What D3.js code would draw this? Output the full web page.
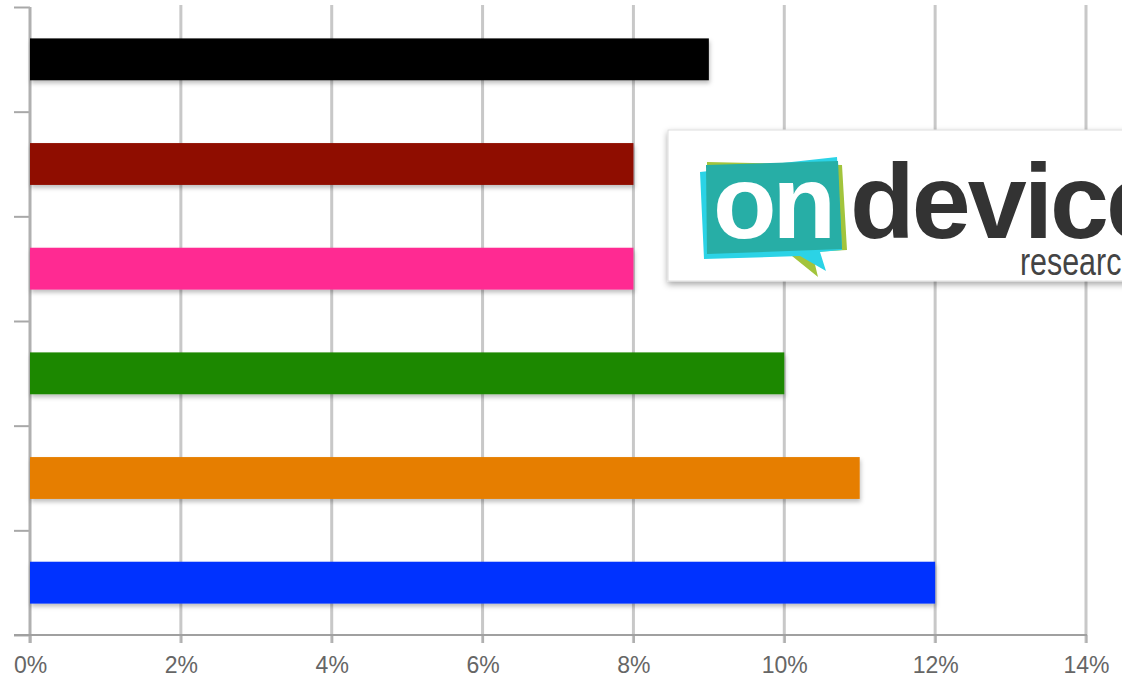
<!DOCTYPE html>
<html><head><meta charset="utf-8">
<script src="https://cdn.jsdelivr.net/npm/d3@7"></script>
<style>html,body{margin:0;padding:0;background:#fff;}svg{display:block;}</style>
</head><body>
<svg id="chart" width="1122" height="681"></svg>
<script>
const categories = ["s1","s2","s3","s4","s5","s6"];
const values = [9, 8, 8, 10, 11, 12];
const colors = ["#000000","#8f0f00","#ff2a92","#1b8800","#e67e00","#0433ff"];
const xTicks = [0,2,4,6,8,10,12,14];

const svg = d3.select("#chart");
const m = {left:30, top:7, right:1086, bottom:635};

const defs = svg.append("defs");
const f = defs.append("filter").attr("id","sh").attr("x","-5%").attr("y","-30%").attr("width","110%").attr("height","180%");
f.append("feDropShadow").attr("dx",1).attr("dy",3).attr("stdDeviation",2).attr("flood-color","#000").attr("flood-opacity",0.25);
const f2 = defs.append("filter").attr("id","sh2").attr("x","-5%").attr("y","-10%").attr("width","110%").attr("height","130%");
f2.append("feDropShadow").attr("dx",0).attr("dy",3).attr("stdDeviation",3).attr("flood-color","#000").attr("flood-opacity",0.35);

const x = d3.scaleLinear().domain([0,14]).range([m.left, m.right]);
const y = d3.scaleBand().domain(categories).range([m.top, m.bottom]).paddingInner(0.6).paddingOuter(0.3);

// gridlines
svg.append("g").selectAll("line").data(xTicks.slice(1)).join("line")
  .attr("x1",d=>x(d)).attr("x2",d=>x(d)).attr("y1",m.top-2).attr("y2",m.bottom+8)
  .attr("stroke","#c8c8c8").attr("stroke-width",3);

// y axis
const yAxis = d3.axisLeft(d3.scaleLinear().domain([0,6]).range([m.bottom,m.top])).ticks(6).tickSize(16).tickFormat("");
const ga = svg.append("g").attr("transform",`translate(${m.left},0)`).call(yAxis);
ga.select(".domain").remove();
ga.selectAll("line").attr("stroke","#a8a8a8").attr("stroke-width",2);
svg.append("line").attr("x1",m.left).attr("x2",m.left).attr("y1",m.top).attr("y2",m.bottom+8)
  .attr("stroke","#b0b0b0").attr("stroke-width",3);

// x axis
const xAxis = d3.axisBottom(x).tickValues(xTicks).tickSize(8).tickPadding(14).tickFormat(d=>d+"%");
const gx = svg.append("g").attr("transform",`translate(0,${m.bottom})`).call(xAxis);
gx.select(".domain").remove();
gx.selectAll("line").attr("stroke","#b0b0b0").attr("stroke-width",2);
gx.selectAll("text").attr("font-family","'Liberation Sans', Arial, sans-serif").attr("font-size",23).attr("fill","#666");
svg.append("line").attr("x1",14).attr("x2",m.right+1).attr("y1",m.bottom).attr("y2",m.bottom)
  .attr("stroke","#a0a0a0").attr("stroke-width",2);

// bars
svg.append("g").selectAll("rect").data(values).join("rect")
  .attr("x",x(0)).attr("y",(d,i)=>y(categories[i]))
  .attr("width",d=>x(d)-x(0)).attr("height",y.bandwidth())
  .attr("fill",(d,i)=>colors[i]).attr("filter","url(#sh)");

// logo
const lg = svg.append("g");
lg.append("rect").attr("x",668).attr("y",130).attr("width",470).attr("height",151)
  .attr("fill","#fff").attr("stroke","#ddd").attr("stroke-width",1).attr("filter","url(#sh2)");
lg.append("path").attr("d","M707,162 L842,165 L847,250 L812,252 L818,277 L792,256 L708,256 Z").attr("fill","#a2c43c");
lg.append("path").attr("d","M700,172 L837,157 L842,250 L820,252 L826,271 L800,256 L704,259 Z").attr("fill","#2bd3e6");
lg.append("path").attr("d","M706,165 L838,161 L842,249 L707,254 Z").attr("fill","#27aea6");
lg.append("text").attr("x",713).attr("y",238).attr("font-family","'Liberation Sans', Arial, sans-serif")
  .attr("font-weight","bold").attr("font-size",104).attr("letter-spacing",-4).attr("fill","#fff").text("on");
lg.append("text").attr("x",850).attr("y",238).attr("font-family","'Liberation Sans', Arial, sans-serif")
  .attr("font-weight","bold").attr("font-size",106).attr("letter-spacing",-3).attr("fill","#333").text("device");
lg.append("text").attr("x",1020).attr("y",275).attr("font-family","'Liberation Sans', Arial, sans-serif")
  .attr("font-size",38).attr("fill","#444")
  .attr("transform","translate(1020,275) scale(0.8,1) translate(-1020,-275)").text("research");
</script>
</body></html>
